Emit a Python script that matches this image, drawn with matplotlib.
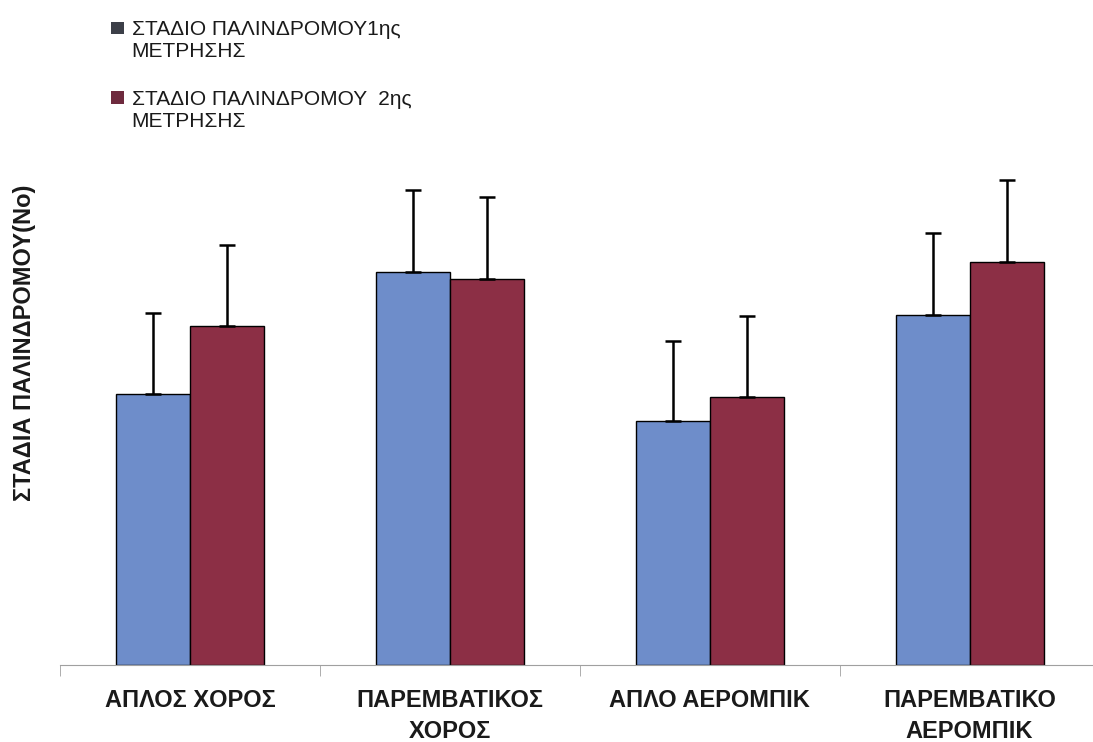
import numpy as np
import matplotlib.pyplot as plt
from matplotlib.patches import Rectangle

plt.rcParams['font.family'] = ['Liberation Sans', 'DejaVu Sans']

# data (arbitrary units: no y ticks shown)
categories = ['ΑΠΛΟΣ ΧΟΡΟΣ', 'ΠΑΡΕΜΒΑΤΙΚΟΣ\nΧΟΡΟΣ', 'ΑΠΛΟ ΑΕΡΟΜΠΙΚ', 'ΠΑΡΕΜΒΑΤΙΚΟ\nΑΕΡΟΜΠΙΚ']
first = [5.42, 7.86, 4.88, 7.00]
first_err = [1.62, 1.64, 1.60, 1.64]
second = [6.78, 7.72, 5.36, 8.06]
second_err = [1.62, 1.64, 1.62, 1.64]
labels = ['ΣΤΑΔΙΟ ΠΑΛΙΝΔΡΟΜΟΥ1ης\nΜΕΤΡΗΣΗΣ', 'ΣΤΑΔΙΟ ΠΑΛΙΝΔΡΟΜΟΥ  2ης\nΜΕΤΡΗΣΗΣ']

blue = '#6e8dca'
red = '#8c2f45'
marker_colors = ['#3c3f48', '#6e2a3e']

fig = plt.figure(figsize=(10.93, 7.42), dpi=100)
ax = fig.add_axes([0.055, 0.1038, 0.951, 0.7075])

x = np.arange(len(categories))
w = 0.285
ekw = dict(ecolor='black', elinewidth=1.8, capsize=6, capthick=1.8)
ax.bar(x - w/2, first, w, color=blue, edgecolor='black', linewidth=1,
       yerr=[np.zeros(4), first_err], error_kw=ekw)
ax.bar(x + w/2, second, w, color=red, edgecolor='black', linewidth=1,
       yerr=[np.zeros(4), second_err], error_kw=ekw)

ax.set_xlim(-0.5, 3.5)
ax.set_ylim(0, 10.5)
ax.set_yticks([])
for s in ['top', 'right', 'left']:
    ax.spines[s].set_visible(False)
ax.spines['bottom'].set_color('#a0a0a0')

ax.set_xticks(x)
ax.set_xticklabels(categories, fontsize=17, fontweight='bold', color='#1a1a1a', linespacing=1.45)
ax.tick_params(axis='x', which='major', length=0, pad=17)
ax.set_xticks(np.arange(-0.5, 4, 1), minor=True)
ax.tick_params(axis='x', which='minor', length=8, color='#a0a0a0')

ax.set_ylabel('ΣΤΑΔΙΑ ΠΑΛΙΝΔΡΟΜΟΥ(No)', fontsize=17, fontweight='bold', color='#1a1a1a')
ax.yaxis.set_label_coords(-0.023, 0.613)

# legend drawn by hand: marker sits beside the first line of each label
for i, (lab, c) in enumerate(zip(labels, marker_colors)):
    top = 0.9726 - i * 0.0943
    fig.patches.append(Rectangle((0.1015, top - 0.0181), 0.0122, 0.0165,
                                 transform=fig.transFigure, facecolor=c, edgecolor='none'))
    fig.text(0.1205, top, lab, fontsize=15, color='#1a1a1a', va='top', ha='left', linespacing=1.2)

plt.savefig('out.png', dpi=100)
